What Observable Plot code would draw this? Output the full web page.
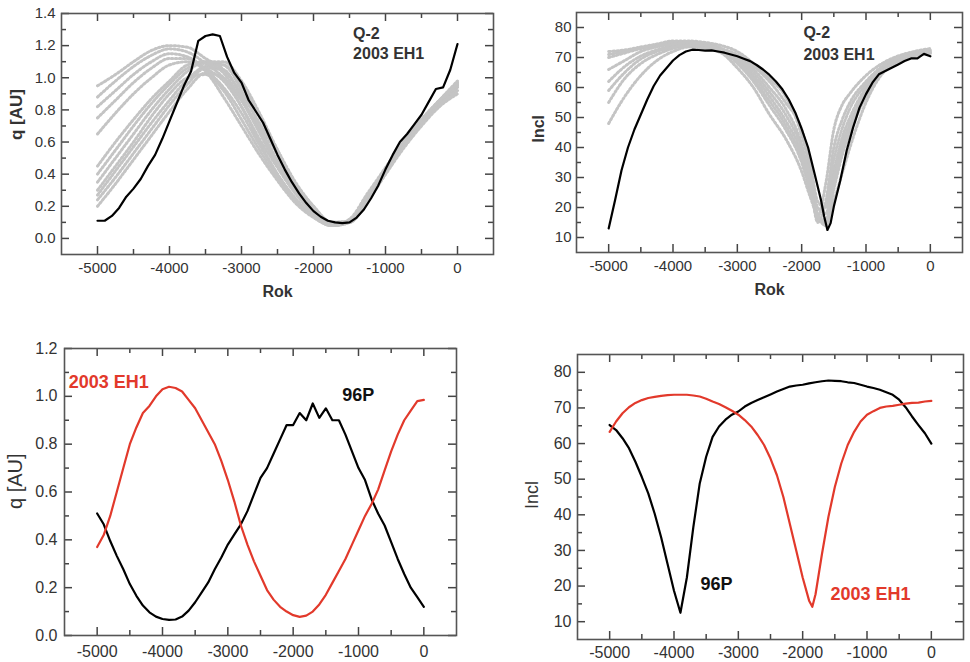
<!DOCTYPE html>
<html><head><meta charset="utf-8">
<script src="https://cdn.jsdelivr.net/npm/d3@7"></script>
<script src="https://cdn.jsdelivr.net/npm/@observablehq/plot@0.6"></script>
<style>
body{margin:0;background:#fff}
#wrap{position:relative;width:970px;height:662px;overflow:hidden;background:#fff}
#wrap > svg{position:absolute}
</style>
</head><body><div id="wrap"></div>
<script>
// ---------- DATA ----------
const xMajorTicks = [-5000, -4000, -3000, -2000, -1000, 0];
const xMinorTicks = [-4500, -3500, -2500, -1500, -500];
const qMajorTop = [0, 0.2, 0.4, 0.6, 0.8, 1.0, 1.2, 1.4];
const qMinorTop = [0.1, 0.3, 0.5, 0.7, 0.9, 1.1, 1.3];
const qMajorBottom = [0, 0.2, 0.4, 0.6, 0.8, 1.0, 1.2];
const qMinorBottom = [0.1, 0.3, 0.5, 0.7, 0.9, 1.1];
const inclMajor = [10, 20, 30, 40, 50, 60, 70, 80];
const inclMinor = [15, 25, 35, 45, 55, 65, 75];

const years100 = d3.range(-5000, 1, 100);

// Panel 1: q of 2003 EH1 (Q-2 model), black
const q2003Q2 = [0.11, 0.11, 0.14, 0.19, 0.26, 0.31, 0.37, 0.45, 0.52, 0.62, 0.73, 0.84, 0.95, 1.04, 1.23, 1.26, 1.27, 1.26, 1.13, 1.03, 0.97, 0.86, 0.79, 0.72, 0.62, 0.52, 0.43, 0.35, 0.28, 0.22, 0.17, 0.135, 0.11, 0.10, 0.095, 0.10, 0.13, 0.18, 0.25, 0.33, 0.43, 0.52, 0.60, 0.65, 0.71, 0.77, 0.85, 0.93, 0.94, 1.05, 1.21];

// Panel 1: clone orbits (grey)
const cloneYearsQ = [-5000, -4750, -4500, -4250, -4000, -3750, -3500, -3250, -3000, -2750, -2500, -2250, -2000, -1750, -1500, -1250, -1000, -750, -500, -250, 0];
const cloneQ1 = [0.95, 1.02, 1.10, 1.17, 1.20, 1.19, 1.12, 1.05, 0.90, 0.72, 0.52, 0.34, 0.20, 0.10, 0.10, 0.24, 0.42, 0.58, 0.72, 0.84, 0.94];
const cloneQ2 = [0.82, 0.92, 1.02, 1.10, 1.15, 1.13, 1.06, 0.98, 0.82, 0.62, 0.44, 0.28, 0.16, 0.09, 0.11, 0.26, 0.43, 0.59, 0.73, 0.85, 0.95];
const cloneQ3 = [0.65, 0.78, 0.90, 1.00, 1.08, 1.10, 1.04, 0.88, 0.70, 0.52, 0.36, 0.22, 0.13, 0.08, 0.12, 0.28, 0.44, 0.60, 0.74, 0.86, 0.97];
const cloneQ4 = [0.45, 0.60, 0.74, 0.87, 0.98, 1.08, 1.10, 1.08, 0.95, 0.76, 0.55, 0.35, 0.20, 0.10, 0.11, 0.26, 0.42, 0.58, 0.72, 0.84, 0.93];
const cloneQ5 = [0.35, 0.50, 0.65, 0.80, 0.93, 1.04, 1.10, 1.10, 0.98, 0.78, 0.55, 0.34, 0.19, 0.10, 0.10, 0.24, 0.41, 0.58, 0.72, 0.85, 0.95];
const cloneQ6 = [0.27, 0.42, 0.57, 0.72, 0.86, 0.99, 1.07, 1.08, 0.92, 0.70, 0.48, 0.30, 0.17, 0.09, 0.10, 0.23, 0.40, 0.57, 0.71, 0.83, 0.92];
const cloneQ7 = [0.20, 0.34, 0.49, 0.64, 0.79, 0.93, 1.03, 1.00, 0.82, 0.60, 0.40, 0.24, 0.14, 0.08, 0.10, 0.24, 0.40, 0.56, 0.70, 0.82, 0.90];
const cloneQ8 = [0.30, 0.45, 0.60, 0.76, 0.90, 1.00, 1.02, 0.92, 0.74, 0.55, 0.38, 0.24, 0.14, 0.08, 0.10, 0.25, 0.42, 0.59, 0.73, 0.86, 0.98];
const cloneQ9 = [0.88, 0.98, 1.07, 1.14, 1.18, 1.16, 1.09, 1.00, 0.86, 0.68, 0.48, 0.31, 0.18, 0.09, 0.10, 0.25, 0.43, 0.59, 0.73, 0.85, 0.96];
const cloneQ10 = [0.24, 0.38, 0.53, 0.68, 0.83, 0.96, 1.06, 1.05, 0.88, 0.66, 0.45, 0.28, 0.16, 0.08, 0.10, 0.24, 0.41, 0.57, 0.71, 0.83, 0.91];
const cloneQ11 = [0.40, 0.55, 0.70, 0.84, 0.96, 1.06, 1.09, 1.03, 0.86, 0.66, 0.47, 0.30, 0.17, 0.09, 0.11, 0.26, 0.43, 0.59, 0.73, 0.85, 0.96];
const cloneQ12 = [0.75, 0.86, 0.97, 1.06, 1.12, 1.12, 1.05, 0.94, 0.78, 0.58, 0.40, 0.25, 0.14, 0.08, 0.11, 0.27, 0.44, 0.60, 0.74, 0.86, 0.96];

// Panel 2: inclination of 2003 EH1 (Q-2), black
const inclYearsQ2 = [-5000, -4900, -4800, -4700, -4600, -4500, -4400, -4300, -4200, -4100, -4000, -3900, -3800, -3700, -3600, -3500, -3400, -3300, -3200, -3100, -3000, -2900, -2800, -2700, -2600, -2500, -2400, -2300, -2200, -2100, -2000, -1900, -1800, -1700, -1650, -1600, -1550, -1500, -1400, -1300, -1200, -1100, -1000, -900, -800, -700, -600, -500, -400, -300, -200, -100, 0];
const incl2003Q2 = [13, 22.5, 32.4, 40, 46, 51, 56, 60.5, 64, 66.5, 69, 70.8, 72, 72.6, 72.5, 72.3, 72.4, 72, 71.6, 71, 70.4, 69.6, 68.8, 67.5, 66, 64.2, 62, 59.4, 56, 51.7, 46.2, 40, 31.3, 22.5, 17, 12.5, 14.8, 20.3, 29, 39, 46.7, 53.3, 57.8, 61.6, 64.4, 65.5, 66.6, 67.7, 68.8, 69.7, 69.7, 71.2, 70.4];

// Panel 2: clone orbits (grey)
const cloneYearsI = [-5000, -4750, -4500, -4250, -4000, -3750, -3500, -3250, -3000, -2750, -2500, -2250, -2000, -1875, -1750, -1625, -1500, -1375, -1250, -1000, -750, -500, -250, 0];
const cloneI1 = [72, 72.5, 73.5, 74.5, 75.5, 75.5, 75, 74, 72, 68, 63, 57, 44, 33, 17, 28, 46, 54, 58, 64, 68, 70.5, 72, 73];
const cloneI2 = [70, 71.5, 73, 74, 75, 75, 74.5, 73, 70.5, 66, 60, 53, 41, 30, 15, 22, 40, 49, 55, 62, 67, 70, 71.5, 72.5];
const cloneI3 = [62, 67, 70.5, 72.5, 74, 74.5, 74, 72.5, 69.5, 64, 57, 49, 38, 28, 16, 16, 32, 43, 50, 60, 66.5, 69.5, 71, 72];
const cloneI4 = [55, 63, 68, 71, 73, 74, 73.5, 72, 68, 62, 54, 46, 35, 26, 18, 14, 26, 37, 45, 57, 65, 69, 70.5, 71.5];
const cloneI5 = [48, 57, 64, 69, 72, 73.5, 73, 71.5, 66.5, 60, 51, 43, 32, 24, 17, 14, 22, 31, 40, 55, 64.5, 68.5, 70.5, 71.5];
const cloneI6 = [71, 72, 73, 74, 74.5, 74.5, 74, 72.8, 71, 67, 62, 55, 46, 36, 22, 20, 36, 46, 53, 61, 67, 70, 71.5, 72.5];
const cloneI7 = [66, 69, 72, 73.5, 74.5, 75, 74.5, 73, 70, 65, 58.5, 51, 40, 31, 20, 18, 30, 41, 48, 59, 66, 69.5, 71, 72];
const cloneI8 = [59, 65, 69.5, 72, 73.5, 74, 74, 72.3, 68.8, 63, 55.5, 47.5, 36.5, 27, 17, 15, 28, 39, 47, 58, 65.5, 69, 70.8, 72];

// Panel 3: q of 2003 EH1 (red) and 96P (black)
const q2003 = [0.37, 0.42, 0.50, 0.60, 0.70, 0.80, 0.87, 0.93, 0.96, 1.00, 1.03, 1.04, 1.035, 1.02, 0.985, 0.95, 0.90, 0.85, 0.80, 0.73, 0.65, 0.56, 0.46, 0.38, 0.31, 0.25, 0.19, 0.15, 0.12, 0.10, 0.085, 0.078, 0.083, 0.10, 0.13, 0.17, 0.22, 0.27, 0.32, 0.38, 0.44, 0.50, 0.55, 0.61, 0.69, 0.77, 0.84, 0.90, 0.94, 0.98, 0.985];
const q96P = [0.51, 0.465, 0.395, 0.333, 0.277, 0.215, 0.166, 0.125, 0.097, 0.079, 0.069, 0.065, 0.067, 0.079, 0.104, 0.139, 0.18, 0.222, 0.277, 0.326, 0.38, 0.423, 0.465, 0.52, 0.59, 0.659, 0.70, 0.76, 0.82, 0.88, 0.88, 0.93, 0.90, 0.97, 0.91, 0.95, 0.90, 0.90, 0.84, 0.77, 0.70, 0.65, 0.57, 0.51, 0.46, 0.39, 0.32, 0.257, 0.20, 0.16, 0.12];

// Panel 4: inclination of 96P (black) and 2003 EH1 (red)
const incl96P = [65.2, 63.8, 61.5, 58.7, 54.9, 50.6, 46, 40.3, 33.7, 26.2, 18.7, 12.5, 22.4, 36.5, 48.8, 56.3, 61.9, 64.8, 66.7, 68.1, 69, 70.4, 71.4, 72.2, 73, 73.8, 74.6, 75.3, 76, 76.3, 76.5, 76.9, 77.2, 77.5, 77.7, 77.6, 77.5, 77.2, 77, 76.5, 76, 75.6, 75.1, 74.4, 73.7, 72.3, 70.2, 67.6, 65.2, 62.9, 60];
const inclYears2003 = [-5000, -4900, -4800, -4700, -4600, -4500, -4400, -4300, -4200, -4100, -4000, -3900, -3800, -3700, -3600, -3500, -3400, -3300, -3200, -3100, -3000, -2900, -2800, -2700, -2600, -2500, -2400, -2300, -2200, -2100, -2000, -1900, -1850, -1800, -1700, -1600, -1500, -1400, -1300, -1200, -1100, -1000, -900, -800, -700, -600, -500, -400, -300, -200, -100, 0];
const incl2003 = [63.3, 66.2, 68.5, 70.2, 71.4, 72.2, 72.8, 73.1, 73.4, 73.6, 73.7, 73.7, 73.7, 73.5, 73.2, 72.6, 71.8, 71.1, 70.2, 69.2, 68.1, 66.6, 64.8, 62.4, 59.6, 55.8, 51.1, 45, 37.5, 30, 22.4, 15.9, 14.2, 17.7, 29, 39.4, 47.8, 54.4, 59.6, 63.3, 66.2, 68.1, 69.1, 70, 70.4, 70.6, 70.9, 71.2, 71.4, 71.5, 71.8, 72];

// ---------- HELPERS ----------
const FONT = '"Liberation Sans", Arial, Helvetica, sans-serif';
const RED = "#e2392b";
const GREY = "#c4c4c4";
const FRAME = "#444";
const TXT = "#333";
const X_DOMAIN = [-5500, 500];

const series = (xs, ys) => xs.map((x, i) => ({x, y: ys[i]}));
const cloneTable = (xs, list) => list.flatMap((arr, k) => arr.map((y, i) => ({x: xs[i], y, id: k})));

function place(svg, left, top) {
  svg.style.left = left + "px";
  svg.style.top = top + "px";
  document.getElementById("wrap").appendChild(svg);
}

function panel(cfg) {
  const {left, top, width, height, m, yDomain, yMajor, yMinor, yFormat, fontSize, xPad, yPad} = cfg;
  const fw = width - m[3] - m[1];
  const fh = height - m[0] - m[2];
  const base = () => ({
    width, height,
    marginTop: m[0], marginRight: m[1], marginBottom: m[2], marginLeft: m[3],
    style: {fontFamily: FONT, fontSize: fontSize + "px", color: TXT, background: "transparent", overflow: "visible"},
    x: {domain: X_DOMAIN},
    y: {domain: yDomain}
  });
  // layer 1: data and labels
  place(Plot.plot({
    ...base(),
    marks: [
      ...cfg.marks,
      Plot.axisX(xMajorTicks, {tickSize: 0, tickPadding: xPad, tickFormat: d => String(d), label: null, fill: TXT}),
      Plot.axisY(yMajor, {tickSize: 0, tickPadding: yPad, tickFormat: yFormat, label: null, fill: TXT}),
      ...cfg.labels
    ]
  }), left, top);
  // layer 2: frame with inward ticks on all four sides
  const tk = {stroke: FRAME, strokeWidth: 1.5};
  const MAJ = 8, MIN = 5;
  place(Plot.plot({
    ...base(),
    marks: [
      Plot.tickX(xMajorTicks, {x: d => d, insetTop: fh - MAJ, ...tk}),
      Plot.tickX(xMinorTicks, {x: d => d, insetTop: fh - MIN, ...tk}),
      Plot.tickX(xMajorTicks, {x: d => d, insetBottom: fh - MAJ, ...tk}),
      Plot.tickX(xMinorTicks, {x: d => d, insetBottom: fh - MIN, ...tk}),
      Plot.tickY(yMajor, {y: d => d, insetRight: fw - MAJ, ...tk}),
      Plot.tickY(yMinor, {y: d => d, insetRight: fw - MIN, ...tk}),
      Plot.tickY(yMajor, {y: d => d, insetLeft: fw - MAJ, ...tk}),
      Plot.tickY(yMinor, {y: d => d, insetLeft: fw - MIN, ...tk}),
      Plot.frame({stroke: "#555", strokeWidth: 1.6})
    ],
    x: {domain: X_DOMAIN, axis: null},
    y: {domain: yDomain, axis: null}
  }), left, top);
}

const greyLine = {stroke: GREY, strokeWidth: 3, strokeDasharray: "1.6,2.4", curve: "monotone-x"};

// ---------- PANEL 1 ----------
panel({
  left: 0, top: 0, width: 500, height: 310, m: [13, 7, 56, 61],
  yDomain: [-0.1, 1.4], yMajor: qMajorTop, yMinor: qMinorTop, yFormat: d3.format(".1f"),
  fontSize: 15, xPad: 8, yPad: 6,
  marks: [
    Plot.line(cloneTable(cloneYearsQ, [cloneQ1, cloneQ2, cloneQ3, cloneQ4, cloneQ5, cloneQ6, cloneQ7, cloneQ8, cloneQ9, cloneQ10, cloneQ11, cloneQ12]), {x: "x", y: "y", z: "id", ...greyLine}),
    Plot.line(series(years100, q2003Q2), {x: "x", y: "y", stroke: "#000", strokeWidth: 2.2})
  ],
  labels: [
    Plot.text(["Q-2"], {x: -1450, y: 1.275, text: d => d, textAnchor: "start", fontWeight: "bold", fontSize: 16, fill: TXT}),
    Plot.text(["2003 EH1"], {x: -1450, y: 1.15, text: d => d, textAnchor: "start", fontWeight: "bold", fontSize: 16, fill: TXT}),
    Plot.text(["Rok"], {frameAnchor: "bottom", dy: 42, text: d => d, fontWeight: "bold", fontSize: 16, fill: TXT}),
    Plot.text(["q [AU]"], {frameAnchor: "left", dx: -45, dy: 6, rotate: -90, text: d => d, fontWeight: "bold", fontSize: 17, fill: TXT})
  ]
});

// ---------- PANEL 2 ----------
panel({
  left: 490, top: 0, width: 480, height: 310, m: [12, 8, 58, 86],
  yDomain: [5, 85], yMajor: inclMajor, yMinor: inclMinor, yFormat: d => String(d),
  fontSize: 15, xPad: 8, yPad: 5,
  marks: [
    Plot.line(cloneTable(cloneYearsI, [cloneI1, cloneI2, cloneI3, cloneI4, cloneI5, cloneI6, cloneI7, cloneI8]), {x: "x", y: "y", z: "id", ...greyLine}),
    Plot.line(series(inclYearsQ2, incl2003Q2), {x: "x", y: "y", stroke: "#000", strokeWidth: 2.2})
  ],
  labels: [
    Plot.text(["Q-2"], {x: -1973, y: 78.1, text: d => d, textAnchor: "start", fontWeight: "bold", fontSize: 16, fill: TXT}),
    Plot.text(["2003 EH1"], {x: -1973, y: 71, text: d => d, textAnchor: "start", fontWeight: "bold", fontSize: 16, fill: TXT}),
    Plot.text(["Rok"], {frameAnchor: "bottom", dy: 42, text: d => d, fontWeight: "bold", fontSize: 16, fill: TXT}),
    Plot.text(["Incl"], {frameAnchor: "left", dx: -38, dy: 10, rotate: -90, text: d => d, fontWeight: "bold", fontSize: 16, fill: TXT})
  ]
});

// ---------- PANEL 3 ----------
panel({
  left: 0, top: 320, width: 490, height: 342, m: [28, 34, 27, 64],
  yDomain: [0, 1.2], yMajor: qMajorBottom, yMinor: qMinorBottom, yFormat: d3.format(".1f"),
  fontSize: 16, xPad: 10, yPad: 7,
  marks: [
    Plot.line(series(years100, q96P), {x: "x", y: "y", stroke: "#000", strokeWidth: 2.2}),
    Plot.line(series(years100, q2003), {x: "x", y: "y", stroke: RED, strokeWidth: 2.2})
  ],
  labels: [
    Plot.text(["2003 EH1"], {x: -5436, y: 1.061, text: d => d, textAnchor: "start", fontWeight: "bold", fontSize: 18, fill: RED}),
    Plot.text(["96P"], {x: -1250, y: 1.003, text: d => d, textAnchor: "start", fontWeight: "bold", fontSize: 18, fill: "#111"}),
    Plot.text(["q [AU]"], {frameAnchor: "left", dx: -49, dy: 17, rotate: -90, text: d => d, fontSize: 20, fill: TXT})
  ]
});

// ---------- PANEL 4 ----------
panel({
  left: 490, top: 320, width: 480, height: 342, m: [34, 7, 23, 87],
  yDomain: [5, 85], yMajor: inclMajor, yMinor: inclMinor, yFormat: d => String(d),
  fontSize: 16, xPad: 7, yPad: 6,
  marks: [
    Plot.line(series(years100, incl96P), {x: "x", y: "y", stroke: "#000", strokeWidth: 2.2}),
    Plot.line(series(inclYears2003, incl2003), {x: "x", y: "y", stroke: RED, strokeWidth: 2.2})
  ],
  labels: [
    Plot.text(["96P"], {x: -3589, y: 20.6, text: d => d, textAnchor: "start", fontWeight: "bold", fontSize: 18, fill: "#111"}),
    Plot.text(["2003 EH1"], {x: -1567, y: 17.7, text: d => d, textAnchor: "start", fontWeight: "bold", fontSize: 18, fill: RED}),
    Plot.text(["Incl"], {frameAnchor: "left", dx: -45, dy: 12, rotate: -90, text: d => d, fontSize: 18, fill: TXT})
  ]
});
</script>
</body></html>
